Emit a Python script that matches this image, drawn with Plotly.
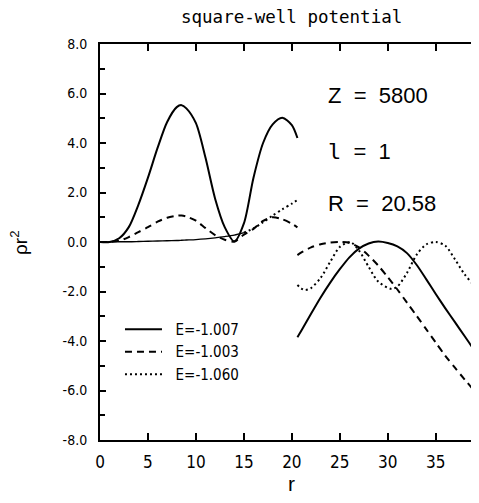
import plotly.graph_objects as go

# --- data ---
r_in = [0, 1, 2, 3, 4, 5, 6, 7, 8, 8.5, 9, 10, 11, 12, 13, 14, 15, 16, 17, 18, 19, 20, 20.58]
solid_in = [0, 0.0, 0.15, 0.6, 1.5, 2.6, 3.8, 4.85, 5.45, 5.53, 5.4, 4.8, 3.4, 1.75, 0.6, 0.02, 0.75, 2.6, 4.0, 4.75, 5.02, 4.72, 4.2]
dash_in = [0, 0.0, 0.05, 0.2, 0.4, 0.6, 0.82, 0.98, 1.06, 1.07, 1.03, 0.86, 0.56, 0.28, 0.09, 0.02, 0.3, 0.53, 0.85, 1.0, 0.92, 0.74, 0.59]
dot_in = [0, 0.0, 0.01, 0.01, 0.02, 0.03, 0.04, 0.05, 0.06, 0.07, 0.08, 0.1, 0.13, 0.17, 0.22, 0.28, 0.38, 0.55, 0.8, 1.07, 1.32, 1.55, 1.7]

r_out = [20.58, 21, 22, 23, 24, 25, 26, 27, 28, 29, 30, 31, 32, 33, 34, 35, 36, 37, 38, 39, 39.5]
solid_out = [-3.85, -3.58, -2.9, -2.24, -1.64, -1.1, -0.62, -0.27, -0.06, 0.02, -0.04, -0.18, -0.45, -0.92, -1.5, -2.1, -2.68, -3.24, -3.8, -4.36, -4.64]
dash_out = [-0.53, -0.42, -0.22, -0.09, -0.02, 0.0, -0.04, -0.22, -0.55, -0.95, -1.42, -1.92, -2.45, -2.98, -3.52, -4.06, -4.6, -5.08, -5.55, -6.0, -6.2]

r_dot_out = [20.58, 21, 21.4, 22, 23, 24, 25, 26.1, 27, 28, 29, 30.4, 31, 32, 33, 34, 35, 36, 37, 38, 39, 39.5]
dot_out = [-1.74, -1.88, -1.94, -1.86, -1.45, -0.8, -0.2, 0.0, -0.35, -1.0, -1.6, -1.9, -1.8, -1.25, -0.52, -0.1, 0.0, -0.15, -0.7, -1.3, -1.75, -1.9]

labels = ["E=-1.007", "E=-1.003", "E=-1.060"]
x_ticks = [0, 5, 10, 15, 20, 25, 30, 35]
x_ticktext = ["0", "5", "10", "15", "20", "25", "30", "35"]
y_ticks = [-8, -6, -4, -2, 0, 2, 4, 6, 8]
y_ticktext = ["-8.0", "-6.0", "-4.0", "-2.0", "0.0", "2.0", "4.0", "6.0", "8.0"]
y_minor = [-7, -5, -3, -1, 1, 3, 5, 7]

FONT = "Liberation Sans Narrow, DejaVu Sans Condensed, Liberation Sans, sans-serif"
MONO = "DejaVu Sans Mono"
DASH = "7px,5px"
DOT = "2px,3px"
GAP = "\u00a0\u00a0"

fig = go.Figure()

# inner region (r < R) followed by outer region, one legend entry per energy
fig.add_trace(go.Scatter(x=r_in, y=solid_in, mode="lines", name=GAP + labels[0], legendgroup="a",
                         line=dict(color="black", width=2, shape="spline", smoothing=0.8)))
fig.add_trace(go.Scatter(x=r_out, y=solid_out, mode="lines", legendgroup="a", showlegend=False,
                         line=dict(color="black", width=2, shape="spline", smoothing=0.8)))
fig.add_trace(go.Scatter(x=r_in, y=dash_in, mode="lines", name=GAP + labels[1], legendgroup="b",
                         line=dict(color="black", width=2, dash=DASH, shape="spline", smoothing=0.8)))
fig.add_trace(go.Scatter(x=r_out, y=dash_out, mode="lines", legendgroup="b", showlegend=False,
                         line=dict(color="black", width=2, dash=DASH, shape="spline", smoothing=0.8)))
# the flat start of the dotted curve prints as a continuous thin line
n_flat = r_in.index(15) + 1
fig.add_trace(go.Scatter(x=r_in[:n_flat], y=dot_in[:n_flat], mode="lines", legendgroup="c", showlegend=False,
                         line=dict(color="black", width=1.3, shape="spline", smoothing=0.8)))
fig.add_trace(go.Scatter(x=r_in[n_flat - 1:], y=dot_in[n_flat - 1:], mode="lines", name=GAP + labels[2],
                         legendgroup="c",
                         line=dict(color="black", width=2, dash=DOT, shape="spline", smoothing=0.8)))
fig.add_trace(go.Scatter(x=r_dot_out, y=dot_out, mode="lines", legendgroup="c", showlegend=False,
                         line=dict(color="black", width=2, dash=DOT, shape="spline", smoothing=0.8)))

axis_common = dict(showline=True, linecolor="black", linewidth=2, mirror="ticks",
                   ticks="inside", tickcolor="black", tickwidth=1.5, showgrid=False, zeroline=False)

fig.update_xaxes(range=[0, 39.3], tickmode="array", tickvals=x_ticks, ticktext=x_ticktext,
                 ticklen=7, ticklabelstandoff=6, tickfont=dict(family=FONT, size=17, color="black"),
                 **axis_common)
fig.update_yaxes(range=[-8, 8], tickmode="array", tickvals=y_ticks, ticktext=y_ticktext,
                 ticklen=6, ticklabelstandoff=8, tickfont=dict(family=FONT, size=14, color="black"),
                 minor=dict(tickmode="array", tickvals=y_minor, ticks="inside", ticklen=5,
                            tickcolor="black", tickwidth=1.5),
                 **axis_common)

ann_font = dict(family="Liberation Sans, Arial, sans-serif", size=22, color="black")
ell = "<span style='font-family:DejaVu Sans Mono'>l</span>"
for txt, yv in [("Z" + GAP + "=" + GAP + "5800", 5.9), (ell + GAP + "=" + GAP + "1", 3.64),
                ("R" + GAP + "=" + GAP + "20.58", 1.54)]:
    fig.add_annotation(x=23.6, y=yv, xref="x", yref="y", text=txt, showarrow=False,
                       xanchor="left", yanchor="middle", font=ann_font)

fig.add_annotation(x=20, y=1.068, xref="x", yref="paper", text="square-well potential", showarrow=False,
                   xanchor="center", yanchor="middle",
                   font=dict(family=MONO, size=17.5, color="black"))
fig.add_annotation(x=20, y=-0.111, xref="x", yref="paper", text="r", showarrow=False,
                   xanchor="center", yanchor="middle",
                   font=dict(family="Liberation Sans, sans-serif", size=21, color="black"))
fig.add_annotation(x=-0.215, y=0, xref="paper", yref="y", text="\u03c1r<sup>2</sup>", showarrow=False,
                   textangle=-90, xanchor="center", yanchor="middle",
                   font=dict(family="Liberation Sans, sans-serif", size=19, color="black"))

# the page body adds an 8px margin; keep the figure inside the window so no scrollbar appears
fig.update_layout(
    width=471, height=487,
    margin=dict(l=92, r=0, t=36, b=55),
    paper_bgcolor="white", plot_bgcolor="white",
    showlegend=True,
    legend=dict(x=0.053, y=0.321, xanchor="left", yanchor="top", bgcolor="rgba(0,0,0,0)",
                font=dict(family=FONT, size=15, color="black"), itemwidth=37, tracegroupgap=0),
)

fig.write_html("out.html")
